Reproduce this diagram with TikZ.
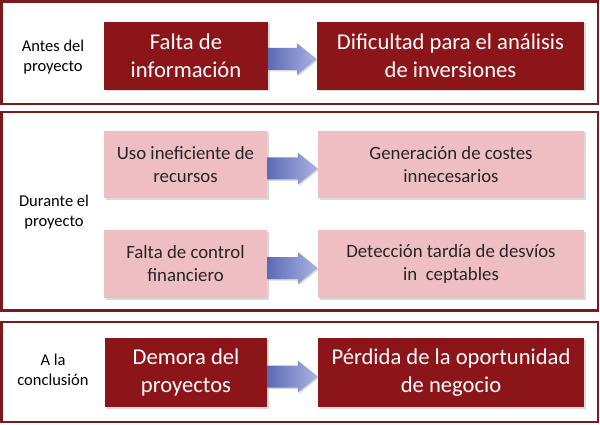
\documentclass[tikz,border=0pt]{standalone}
\usepackage{fontspec}
\setmainfont{Carlito}
\usetikzlibrary{calc,shadows}
\definecolor{granate}{RGB}{140,21,26}
\definecolor{rosa}{RGB}{238,190,194}
\definecolor{borde}{RGB}{122,26,28}
\definecolor{azulosc}{RGB}{92,106,180}
\definecolor{azulcla}{RGB}{170,180,226}

\begin{document}
\begin{tikzpicture}[x=1pt, y=-1pt,
    panel/.style = {draw=borde, line width=2.5pt, inner sep=0pt, minimum width=596.5pt},
    etapa/.style = {align=center, font=\fontsize{16.5}{20}\selectfont},
    caja/.style = {align=center, inner sep=0pt, minimum height=68pt,
        drop shadow={shadow xshift=1.5pt, shadow yshift=-1.5pt, opacity=0.3}},
    oscuro/.style = {caja, fill=granate, text=white, font=\fontsize{22.6}{28}\selectfont},
    claro/.style = {caja, fill=rosa, text=black!85, font=\fontsize{18.8}{23}\selectfont},
    flecha/.style = {left color=azulosc, right color=azulcla,
        drop shadow={shadow xshift=1pt, shadow yshift=-1.5pt, opacity=0.3}}]
    \useasboundingbox (0,0) rectangle (600,425);

    \node[panel, minimum height=102.5pt] (antesp) at (299.75, 52.75) {};
    \node[panel, minimum height=198.5pt] (durantep) at (299.75, 211.25) {};
    \node[panel, minimum height=100pt] (finp) at (299.75, 372) {};

    \node[etapa] (antes) at (53, 57) {Antes del\\proyecto};
    \node[etapa] (durante) at (54, 212) {Durante el\\proyecto};
    \node[etapa] (conclusion) at (53, 370) {A la\\conclusión};

    \node[oscuro, minimum width=164pt] (f1) at (186, 56) {Falta de\\información};
    \node[oscuro, minimum width=267pt] (d1) at (450.5, 56) {Dificultad para el análisis\\de inversiones};

    \node[claro, minimum width=163pt, minimum height=67pt] (u2) at (185.5, 164.5) {Uso ineficiente de\\recursos};
    \node[claro, minimum width=266pt, minimum height=67pt] (g2) at (451, 164.5) {Generación de costes\\innecesarios};
    \node[claro, minimum width=163pt] (c2) at (185.5, 264) {Falta de control\\financiero};
    \node[claro, minimum width=266pt] (t2) at (451, 264) {Detección tardía de desvíos\\in\ \ ceptables};

    \node[oscuro, minimum width=162pt, minimum height=69pt] (m3) at (186, 372.5) {Demora del\\proyectos};
    \node[oscuro, minimum width=266pt, minimum height=69pt] (p3) at (451, 372.5) {Pérdida de la oportunidad\\de negocio};

    \path[flecha] ($(f1.east)+(0,-8)$) -- ($(d1.west)+(-20,-8)$) -- ($(d1.west)+(-20,-13)$) -- ($(d1.west)+(0,3)$) -- ($(d1.west)+(-20,19)$) -- ($(d1.west)+(-20,14)$) -- ($(f1.east)+(0,14)$) -- cycle;
    \path[flecha] ($(u2.east)+(0,-7)$) -- ($(g2.west)+(-20,-7)$) -- ($(g2.west)+(-20,-12)$) -- ($(g2.west)+(0,4)$) -- ($(g2.west)+(-20,20)$) -- ($(g2.west)+(-20,15)$) -- ($(u2.east)+(0,15)$) -- cycle;
    \path[flecha] ($(c2.east)+(0,-7)$) -- ($(t2.west)+(-20,-7)$) -- ($(t2.west)+(-20,-12)$) -- ($(t2.west)+(0,4)$) -- ($(t2.west)+(-20,20)$) -- ($(t2.west)+(-20,15)$) -- ($(c2.east)+(0,15)$) -- cycle;
    \path[flecha] ($(m3.east)+(0,-7)$) -- ($(p3.west)+(-20,-7)$) -- ($(p3.west)+(-20,-12)$) -- ($(p3.west)+(0,4)$) -- ($(p3.west)+(-20,20)$) -- ($(p3.west)+(-20,15)$) -- ($(m3.east)+(0,15)$) -- cycle;
\end{tikzpicture}
\end{document}
